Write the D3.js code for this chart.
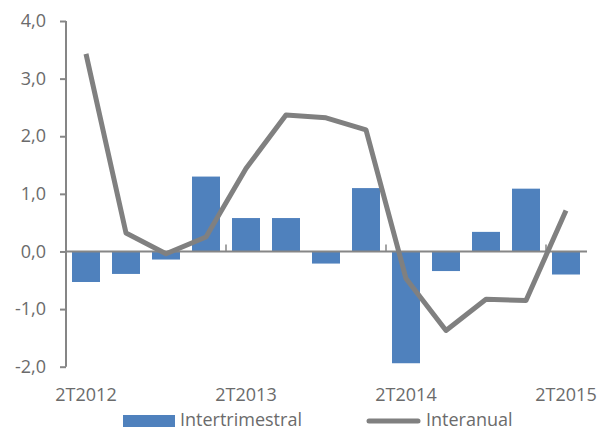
<!DOCTYPE html>
<html>
<head>
<meta charset="utf-8">
<script src="https://cdn.jsdelivr.net/npm/d3@7"></script>
<style>
  html, body { margin: 0; padding: 0; background: #fff; }
  svg { display: block; font-family: "Open Sans", sans-serif; }
</style>
</head>
<body>
<svg id="chart" width="602" height="430"></svg>
<script>
const categories = ["2T2012","3T2012","4T2012","1T2013","2T2013","3T2013","4T2013","1T2014","2T2014","3T2014","4T2014","1T2015","2T2015"];
const intertrimestral = [-0.53, -0.39, -0.14, 1.30, 0.58, 0.58, -0.21, 1.10, -1.94, -0.34, 0.34, 1.09, -0.40];
const interanual = [3.43, 0.32, -0.04, 0.25, 1.44, 2.37, 2.32, 2.11, -0.47, -1.37, -0.83, -0.85, 0.71];
const yTicks = [-2, -1, 0, 1, 2, 3, 4];
const xTickLabels = ["2T2012","2T2013","2T2014","2T2015"];
const seriesNames = ["Intertrimestral", "Interanual"];

const svg = d3.select("#chart");
const axisColor = "#868686";
const textColor = "#6b6b6b";
const barColor = "#4f81bd";
const lineColor = "#808080";

const x = d3.scaleBand().domain(categories).range([66, 586]).paddingInner(0.3).paddingOuter(0.15);
const y = d3.scaleLinear().domain([-2, 4]).range([366.7, 21]);

// bars
svg.append("g").selectAll("rect").data(categories).join("rect")
  .attr("x", d => x(d))
  .attr("width", x.bandwidth())
  .attr("y", (d, i) => y(Math.max(0, intertrimestral[i])))
  .attr("height", (d, i) => Math.abs(y(intertrimestral[i]) - y(0)))
  .attr("fill", barColor);

// y axis
const yAxis = d3.axisLeft(y).tickValues(yTicks).tickSize(6).tickPadding(14)
  .tickFormat(d => d3.format(".1f")(d).replace(".", ",").replace("−", "-"));
const gy = svg.append("g").attr("transform", "translate(66,0)").call(yAxis);
gy.select(".domain").attr("stroke", axisColor).attr("stroke-width", 2).attr("d", `M0,${y(4)}V${y(-2)}`);
gy.selectAll(".tick line").attr("stroke", axisColor).attr("stroke-width", 2);
gy.selectAll(".tick text").attr("fill", textColor).attr("font-size", 18).attr("font-family", "Open Sans");

// x axis at zero
const gx = svg.append("g").attr("transform", `translate(0,${y(0)})`);
gx.append("line").attr("x1", 66).attr("x2", 587).attr("y1", 0).attr("y2", 0)
  .attr("stroke", axisColor).attr("stroke-width", 2);
const boundaryIdx = [4, 8, 12];
gx.selectAll(".xt").data(boundaryIdx).join("line")
  .attr("x1", i => x(categories[i]) - x.step() * x.paddingInner() / 2)
  .attr("x2", i => x(categories[i]) - x.step() * x.paddingInner() / 2)
  .attr("y1", 0).attr("y2", -7)
  .attr("stroke", axisColor).attr("stroke-width", 1.5);

// x labels
svg.append("g").selectAll("text").data(xTickLabels).join("text")
  .attr("x", d => x(d) + x.bandwidth() / 2)
  .attr("y", 401)
  .attr("text-anchor", "middle")
  .attr("fill", textColor)
  .attr("font-size", 18)
  .text(d => d);

// line
const line = d3.line().x((d, i) => x(categories[i]) + x.bandwidth() / 2).y(d => y(d));
svg.append("path").datum(interanual)
  .attr("d", line)
  .attr("fill", "none")
  .attr("stroke", lineColor)
  .attr("stroke-width", 5)
  .attr("stroke-linejoin", "round");

// legend
const lg = svg.append("g");
lg.append("rect").attr("x", 123).attr("y", 415).attr("width", 52).attr("height", 12).attr("fill", barColor);
lg.append("text").attr("x", 180).attr("y", 426).attr("fill", textColor).attr("font-size", 18).text(seriesNames[0]);
lg.append("line").attr("x1", 369).attr("x2", 418).attr("y1", 421).attr("y2", 421)
  .attr("stroke", lineColor).attr("stroke-width", 5).attr("stroke-linecap", "round");
lg.append("text").attr("x", 426).attr("y", 426).attr("fill", textColor).attr("font-size", 18).text(seriesNames[1]);
</script>
</body>
</html>
